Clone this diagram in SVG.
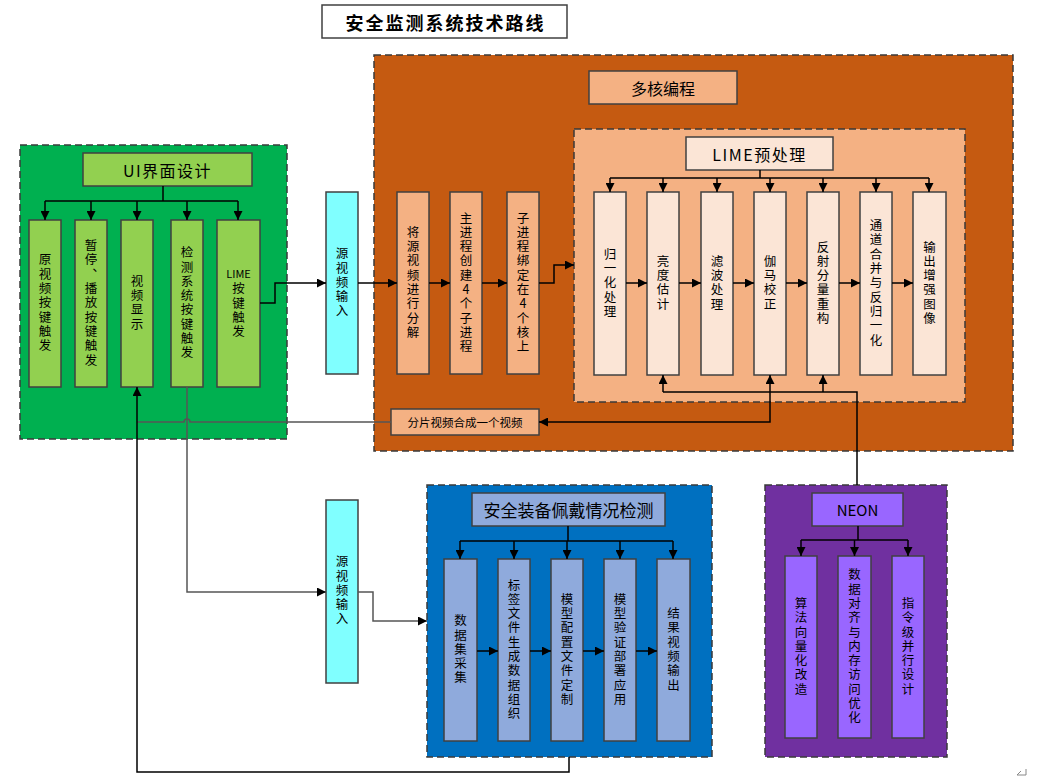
<svg xmlns="http://www.w3.org/2000/svg" width="1037" height="778" viewBox="0 0 1037 778">
<defs>
<marker id="arr" viewBox="0 0 10 10" refX="10" refY="5" markerWidth="10" markerHeight="9" markerUnits="userSpaceOnUse" orient="auto"><path d="M0,0 L10,5 L0,10 z" fill="#000"/></marker>
<style>
.panel{stroke:#3a3a3a;stroke-width:1.5;stroke-dasharray:7 4}
.box{stroke:#404040;stroke-width:1.5}
.t{font-family:"Noto Sans CJK SC","Liberation Sans",sans-serif;font-size:12.5px;fill:#000;text-anchor:middle;dominant-baseline:central}
.v{font-family:"Noto Sans CJK SC","Liberation Sans",sans-serif;font-size:12.5px;fill:#000;text-anchor:middle;writing-mode:vertical-rl;text-orientation:upright;letter-spacing:1.8px}
.h{font-family:"Noto Sans CJK SC","Liberation Sans",sans-serif;font-size:16px;fill:#000;text-anchor:middle;dominant-baseline:central}
.ln{fill:none;stroke:#000;stroke-width:1.5}
.lg{fill:none;stroke:#555;stroke-width:1.5}
</style>
</defs>
<rect width="1037" height="778" fill="#fff"/>

<g id="title">
<rect x="322" y="5" width="245" height="33" fill="#fff" class="box"/>
<text x="445.5" y="21.5" class="h" style="font-size:18px;font-weight:bold;letter-spacing:2px">安全监测系统技术路线</text>
</g>

<g id="ui-panel">
<rect x="20" y="145" width="267" height="294" fill="#00B050" class="panel"/>
<rect x="83" y="153" width="169" height="33" fill="#92D050" class="box"/>
<text x="167.5" y="169.5" class="h" style="letter-spacing:1.5px">UI界面设计</text>
</g>
<g id="ui-1"><rect x="29" y="220" width="32" height="167" fill="#92D050" class="box"/>
<text class="v" x="45" y="303.5">原视频按键触发</text></g>
<g id="ui-2"><rect x="75" y="220" width="32" height="167" fill="#92D050" class="box"/>
<text class="v" x="91" y="303.5">暂停、播放按键触发</text></g>
<g id="ui-3"><rect x="121" y="220" width="32" height="167" fill="#92D050" class="box"/>
<text class="v" x="137" y="303.5">视频显示</text></g>
<g id="ui-4"><rect x="171" y="220" width="32" height="167" fill="#92D050" class="box"/>
<text class="v" x="187" y="303.5">检测系统按键触发</text></g>
<g id="ui-5"><rect x="217" y="220" width="43" height="167" fill="#92D050" class="box"/>
<text class="t" x="238.5" y="273" style="font-size:11px">LIME</text>
<text class="v" x="238.5" y="311">按键触发</text></g>

<g id="src-1"><rect x="326" y="192" width="32" height="182" fill="#80FFFF" class="box"/>
<text class="v" x="342" y="283">源视频输入</text></g>

<g id="multicore-panel">
<rect x="374" y="55" width="639" height="396" fill="#C55A11" class="panel"/>
<rect x="589" y="71" width="148" height="33" fill="#F4B183" class="box"/>
<text x="663" y="87.5" class="h">多核编程</text>
</g>
<g id="mc-1"><rect x="397" y="192" width="32" height="182" fill="#F4B183" class="box"/>
<text class="v" x="413" y="283">将源视频进行分解</text></g>
<g id="mc-2"><rect x="450" y="192" width="32" height="182" fill="#F4B183" class="box"/>
<text class="v" x="466" y="283">主进程创建4个子进程</text></g>
<g id="mc-3"><rect x="507" y="192" width="32" height="182" fill="#F4B183" class="box"/>
<text class="v" x="523" y="283">子进程绑定在4个核上</text></g>

<g id="lime-panel">
<rect x="574" y="129" width="391" height="273" fill="#F4B183" class="panel"/>
<rect x="686" y="137" width="147" height="33" fill="#FBE5D6" class="box"/>
<text x="759.5" y="153.5" class="h" style="letter-spacing:1.5px">LIME预处理</text>
</g>
<g id="lime-1"><rect x="594" y="192" width="32" height="183" fill="#FBE5D6" class="box"/>
<text class="v" x="610" y="283.5">归一化处理</text></g>
<g id="lime-2"><rect x="647" y="192" width="32" height="183" fill="#FBE5D6" class="box"/>
<text class="v" x="663" y="283.5">亮度估计</text></g>
<g id="lime-3"><rect x="701" y="192" width="32" height="183" fill="#FBE5D6" class="box"/>
<text class="v" x="717" y="283.5">滤波处理</text></g>
<g id="lime-4"><rect x="754" y="192" width="32" height="183" fill="#FBE5D6" class="box"/>
<text class="v" x="770" y="283.5">伽马校正</text></g>
<g id="lime-5"><rect x="807" y="192" width="32" height="183" fill="#FBE5D6" class="box"/>
<text class="v" x="823" y="283.5">反射分量重构</text></g>
<g id="lime-6"><rect x="860" y="192" width="32" height="183" fill="#FBE5D6" class="box"/>
<text class="v" x="876" y="283.5">通道合并与反归一化</text></g>
<g id="lime-7"><rect x="913" y="192" width="33" height="183" fill="#FBE5D6" class="box"/>
<text class="v" x="929.5" y="283.5">输出增强图像</text></g>

<g id="merge"><rect x="391" y="409" width="148" height="26" fill="#F4B183" class="box"/>
<text class="t" x="465" y="422" style="font-size:11.5px">分片视频合成一个视频</text></g>

<g id="src-2"><rect x="326" y="500" width="32" height="183" fill="#80FFFF" class="box"/>
<text class="v" x="342" y="591">源视频输入</text></g>

<g id="safety-panel">
<rect x="427" y="485" width="285" height="272" fill="#0070C0" class="panel"/>
<rect x="472" y="493" width="193" height="33" fill="#8FAADC" class="box"/>
<text x="568.5" y="509.5" class="h" style="font-size:17px">安全装备佩戴情况检测</text>
</g>
<g id="sf-1"><rect x="444" y="559" width="33" height="182" fill="#8FAADC" class="box"/>
<text class="v" x="460.5" y="650">数据集采集</text></g>
<g id="sf-2"><rect x="498" y="559" width="32" height="182" fill="#8FAADC" class="box"/>
<text class="v" x="514" y="650">标签文件生成数据组织</text></g>
<g id="sf-3"><rect x="551" y="559" width="32" height="182" fill="#8FAADC" class="box"/>
<text class="v" x="567" y="650">模型配置文件定制</text></g>
<g id="sf-4"><rect x="604" y="559" width="32" height="182" fill="#8FAADC" class="box"/>
<text class="v" x="620" y="650">模型验证部署应用</text></g>
<g id="sf-5"><rect x="657" y="559" width="33" height="182" fill="#8FAADC" class="box"/>
<text class="v" x="673.5" y="650">结果视频输出</text></g>

<g id="neon-panel">
<rect x="765" y="485" width="182" height="272" fill="#7030A0" class="panel"/>
<rect x="812" y="493" width="91" height="33" fill="#9966FF" class="box"/>
<text x="857.5" y="509.5" class="h" style="font-size:15px">NEON</text>
</g>
<g id="ne-1"><rect x="785" y="556" width="32" height="182" fill="#9966FF" class="box"/>
<text class="v" x="801" y="647">算法向量化改造</text></g>
<g id="ne-2"><rect x="838" y="556" width="33" height="182" fill="#9966FF" class="box"/>
<text class="v" x="854.5" y="647">数据对齐与内存访问优化</text></g>
<g id="ne-3"><rect x="892" y="556" width="32" height="182" fill="#9966FF" class="box"/>
<text class="v" x="908" y="647">指令级并行设计</text></g>

<g id="connectors">
<path class="ln" d="M163,186 V201 M45,201 H238"/>
<path class="ln" d="M45,201 V220" marker-end="url(#arr)"/>
<path class="ln" d="M91,201 V220" marker-end="url(#arr)"/>
<path class="ln" d="M137,201 V220" marker-end="url(#arr)"/>
<path class="ln" d="M187,201 V220" marker-end="url(#arr)"/>
<path class="ln" d="M238,201 V220" marker-end="url(#arr)"/>
<path class="ln" d="M260,303 H275 V283 H326" marker-end="url(#arr)"/>
<path class="ln" d="M358,283 H397" marker-end="url(#arr)"/>
<path class="ln" d="M429,283 H450" marker-end="url(#arr)"/>
<path class="ln" d="M482,283 H507" marker-end="url(#arr)"/>
<path class="ln" d="M539,283 H554 V265 H574" marker-end="url(#arr)"/>
<path class="ln" d="M760,170 V178 M610,178 H929"/>
<path class="ln" d="M610,178 V192" marker-end="url(#arr)"/>
<path class="ln" d="M663,178 V192" marker-end="url(#arr)"/>
<path class="ln" d="M717,178 V192" marker-end="url(#arr)"/>
<path class="ln" d="M770,178 V192" marker-end="url(#arr)"/>
<path class="ln" d="M823,178 V192" marker-end="url(#arr)"/>
<path class="ln" d="M876,178 V192" marker-end="url(#arr)"/>
<path class="ln" d="M929,178 V192" marker-end="url(#arr)"/>
<path class="ln" d="M626,283 H647" marker-end="url(#arr)"/>
<path class="ln" d="M679,283 H701" marker-end="url(#arr)"/>
<path class="ln" d="M733,283 H754" marker-end="url(#arr)"/>
<path class="ln" d="M786,283 H807" marker-end="url(#arr)"/>
<path class="ln" d="M839,283 H860" marker-end="url(#arr)"/>
<path class="ln" d="M892,283 H913" marker-end="url(#arr)"/>
<path class="ln" d="M857,485 V392 H663"/>
<path class="ln" d="M663,392 V375" marker-end="url(#arr)"/>
<path class="ln" d="M770,392 V375" marker-end="url(#arr)"/>
<path class="ln" d="M823,392 V375" marker-end="url(#arr)"/>
<path class="ln" d="M770,392 V422 H539" marker-end="url(#arr)"/>
<path class="lg" d="M391,422 H190 A3,3 0 0 0 184,422 H137"/>
<path class="ln" d="M569,757 V772 H137 V387" marker-end="url(#arr)"/>
<path class="lg" d="M187,387 V592 H326" marker-end="url(#arr)"/>
<path class="lg" d="M358,592 H373 V621 H427" marker-end="url(#arr)"/>
<path class="ln" d="M568,526 V541 M460,541 H673"/>
<path class="ln" d="M460,541 V559" marker-end="url(#arr)"/>
<path class="ln" d="M514,541 V559" marker-end="url(#arr)"/>
<path class="ln" d="M567,541 V559" marker-end="url(#arr)"/>
<path class="ln" d="M620,541 V559" marker-end="url(#arr)"/>
<path class="ln" d="M673,541 V559" marker-end="url(#arr)"/>
<path class="ln" d="M477,651 H498" marker-end="url(#arr)"/>
<path class="ln" d="M530,651 H551" marker-end="url(#arr)"/>
<path class="ln" d="M583,651 H604" marker-end="url(#arr)"/>
<path class="ln" d="M636,651 H657" marker-end="url(#arr)"/>
<path class="ln" d="M858,526 V540 M801,540 H908"/>
<path class="ln" d="M801,540 V556" marker-end="url(#arr)"/>
<path class="ln" d="M854.5,540 V556" marker-end="url(#arr)"/>
<path class="ln" d="M908,540 V556" marker-end="url(#arr)"/>
</g>
<path d="M1017,775 L1021,771 M1017,775 H1026 V769" fill="none" stroke="#888" stroke-width="1"/>
</svg>
